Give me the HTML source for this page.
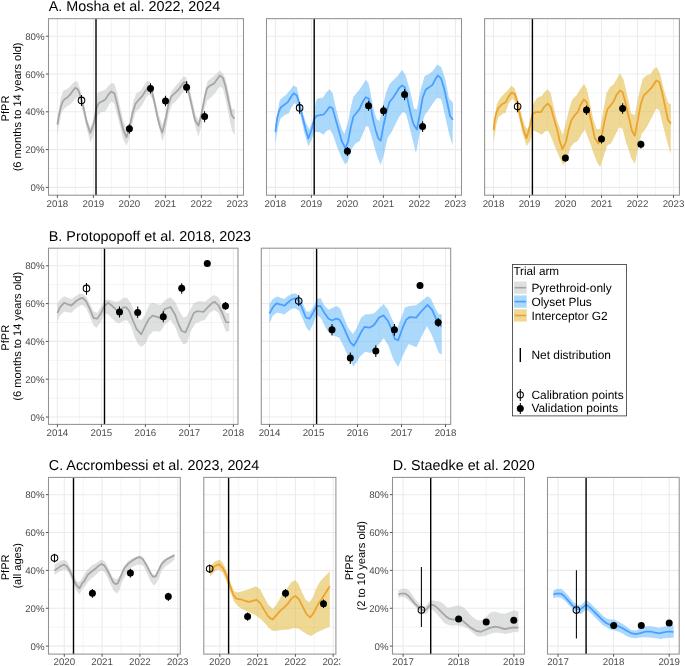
<!DOCTYPE html>
<html><head><meta charset="utf-8"><style>
html,body{margin:0;padding:0;background:#fff;}
svg{display:block;will-change:transform;}
text{font-family:"Liberation Sans", sans-serif;text-rendering:geometricPrecision;}
.ax{font-size:9.7px;fill:#4d4d4d;}
.ti{font-size:14.35px;fill:#000;}
.at{font-size:11.1px;fill:#000;}
.lt{font-size:11.7px;fill:#000;}
.lx{font-size:11.95px;fill:#000;}
</style></head><body>
<svg width="685" height="666" viewBox="0 0 685 666">
<rect width="685" height="666" fill="#fff"/>
<rect x="48.5" y="18.65" width="195.00" height="176.55" fill="#fff"/>
<line x1="48.5" x2="243.5" y1="168.50" y2="168.50" stroke="#ebebeb" stroke-width="0.55"/>
<line x1="48.5" x2="243.5" y1="130.70" y2="130.70" stroke="#ebebeb" stroke-width="0.55"/>
<line x1="48.5" x2="243.5" y1="92.90" y2="92.90" stroke="#ebebeb" stroke-width="0.55"/>
<line x1="48.5" x2="243.5" y1="55.10" y2="55.10" stroke="#ebebeb" stroke-width="0.55"/>
<line x1="75.40" x2="75.40" y1="18.65" y2="195.2" stroke="#ebebeb" stroke-width="0.55"/>
<line x1="111.40" x2="111.40" y1="18.65" y2="195.2" stroke="#ebebeb" stroke-width="0.55"/>
<line x1="147.40" x2="147.40" y1="18.65" y2="195.2" stroke="#ebebeb" stroke-width="0.55"/>
<line x1="183.40" x2="183.40" y1="18.65" y2="195.2" stroke="#ebebeb" stroke-width="0.55"/>
<line x1="219.40" x2="219.40" y1="18.65" y2="195.2" stroke="#ebebeb" stroke-width="0.55"/>
<line x1="48.5" x2="243.5" y1="187.40" y2="187.40" stroke="#ebebeb" stroke-width="1.07"/>
<line x1="48.5" x2="243.5" y1="149.60" y2="149.60" stroke="#ebebeb" stroke-width="1.07"/>
<line x1="48.5" x2="243.5" y1="111.80" y2="111.80" stroke="#ebebeb" stroke-width="1.07"/>
<line x1="48.5" x2="243.5" y1="74.00" y2="74.00" stroke="#ebebeb" stroke-width="1.07"/>
<line x1="48.5" x2="243.5" y1="36.20" y2="36.20" stroke="#ebebeb" stroke-width="1.07"/>
<line x1="57.40" x2="57.40" y1="18.65" y2="195.2" stroke="#ebebeb" stroke-width="1.07"/>
<line x1="93.40" x2="93.40" y1="18.65" y2="195.2" stroke="#ebebeb" stroke-width="1.07"/>
<line x1="129.40" x2="129.40" y1="18.65" y2="195.2" stroke="#ebebeb" stroke-width="1.07"/>
<line x1="165.40" x2="165.40" y1="18.65" y2="195.2" stroke="#ebebeb" stroke-width="1.07"/>
<line x1="201.40" x2="201.40" y1="18.65" y2="195.2" stroke="#ebebeb" stroke-width="1.07"/>
<line x1="237.40" x2="237.40" y1="18.65" y2="195.2" stroke="#ebebeb" stroke-width="1.07"/>
<clipPath id="cpA1"><rect x="48.5" y="18.65" width="195.00" height="176.55"/></clipPath>
<g clip-path="url(#cpA1)">
<path d="M57.4,120.0 L60.8,97.5 L63.6,90.2 L66.4,89.6 L69.8,86.8 L72.6,83.4 L75.4,81.2 L77.6,81.8 L79.9,88.5 L83.3,103.2 L86.7,117.8 L90.3,128.0 L93.4,120.0 L97.6,92.8 L100.0,91.6 L105.4,89.8 L109.0,85.0 L112.0,83.0 L114.4,83.8 L117.4,94.0 L120.4,108.5 L123.4,120.5 L126.5,128.9 L130.1,120.5 L133.0,102.5 L136.1,93.4 L140.9,90.4 L143.8,86.0 L147.0,81.0 L149.6,81.6 L152.8,89.2 L155.9,103.3 L159.1,116.0 L162.3,125.0 L165.5,114.7 L168.7,99.4 L171.9,90.5 L175.7,86.0 L179.5,81.6 L183.4,76.5 L185.9,77.1 L189.8,89.4 L192.4,100.8 L195.6,114.9 L198.8,120.0 L202.0,107.2 L205.1,90.6 L207.7,81.1 L211.5,77.9 L215.4,74.7 L219.8,70.5 L223.0,73.4 L225.6,79.1 L228.8,93.2 L231.9,109.1 L234.7,109.1 L234.7,135.3 L231.9,130.2 L229.4,118.7 L226.2,102.1 L223.0,88.7 L219.8,86.2 L216.0,91.9 L211.5,97.0 L207.1,100.8 L204.5,108.5 L201.3,126.4 L198.5,136.6 L195.6,127.6 L192.4,113.6 L189.2,99.6 L187.2,91.8 L184.0,90.5 L179.5,96.9 L175.7,101.4 L171.9,104.5 L168.7,113.5 L165.5,131.3 L162.3,141.5 L158.5,125.0 L155.3,110.9 L152.1,98.2 L148.9,94.3 L146.4,96.9 L143.2,103.3 L139.7,108.5 L135.5,112.1 L132.5,122.9 L129.5,137.3 L126.5,145.7 L123.4,139.7 L120.4,127.7 L117.4,115.7 L114.4,104.3 L111.4,101.3 L108.4,106.0 L105.4,111.5 L101.2,112.1 L97.6,115.7 L93.4,135.8 L90.3,142.6 L87.2,130.2 L83.8,115.5 L81.0,104.8 L79.3,98.5 L77.5,97.6 L75.3,98.5 L73.0,101.7 L69.9,104.8 L66.7,106.6 L64.0,108.9 L61.8,112.0 L59.9,121.0 L57.4,133.7 Z" fill="#bdbfbf" fill-opacity="0.5" stroke="none"/>
<path d="M57.4,124.5 L59.1,114.7 L60.9,106.6 L62.9,101.2 L64.9,99.0 L67.6,97.2 L69.9,94.9 L72.1,91.8 L75.3,87.7 L78.0,89.5 L79.5,93.1 L83.3,106.5 L86.7,122.3 L90.3,133.0 L93.4,124.5 L95.1,117.8 L96.4,108.5 L98.8,103.0 L102.4,101.3 L105.4,99.4 L108.4,94.6 L111.4,91.4 L114.4,93.4 L117.4,104.9 L120.4,118.1 L123.4,130.1 L126.5,137.3 L129.5,127.7 L132.5,113.3 L135.5,103.7 L139.7,98.8 L142.6,95.6 L145.7,90.5 L148.3,87.3 L152.1,92.4 L154.7,103.3 L157.2,116.0 L159.8,126.2 L162.3,132.6 L165.5,119.8 L168.1,105.8 L171.3,96.3 L174.4,93.7 L178.3,89.9 L182.1,84.8 L184.0,82.2 L186.6,82.9 L189.8,97.0 L192.4,108.5 L194.9,120.0 L198.5,125.7 L201.3,114.9 L204.5,98.3 L207.1,88.1 L210.2,85.5 L214.1,83.6 L217.3,79.1 L219.8,75.6 L223.0,77.9 L225.6,86.8 L228.8,102.1 L231.9,115.5 L234.5,118.7" fill="none" stroke="#a5a5a5" stroke-width="1.75" stroke-linejoin="round" stroke-linecap="butt"/>
<line x1="96.0" x2="96.0" y1="18.65" y2="195.2" stroke="#000" stroke-width="1.4"/>
<line x1="81.5" x2="81.5" y1="95.1" y2="105.9" stroke="#000" stroke-width="1.05"/>
<circle cx="81.5" cy="100.4" r="3.3" fill="none" stroke="#000" stroke-width="1.05"/>
<line x1="129.4" x2="129.4" y1="124.2" y2="133.5" stroke="#000" stroke-width="1.05"/>
<circle cx="129.4" cy="128.7" r="3.5" fill="#000"/>
<line x1="150.5" x2="150.5" y1="83.3" y2="93.4" stroke="#000" stroke-width="1.05"/>
<circle cx="150.5" cy="88.5" r="3.5" fill="#000"/>
<line x1="165.5" x2="165.5" y1="95.8" y2="106.2" stroke="#000" stroke-width="1.05"/>
<circle cx="165.5" cy="100.9" r="3.5" fill="#000"/>
<line x1="186.6" x2="186.6" y1="81.2" y2="93" stroke="#000" stroke-width="1.05"/>
<circle cx="186.6" cy="87.2" r="3.5" fill="#000"/>
<line x1="204.6" x2="204.6" y1="111.3" y2="122.2" stroke="#000" stroke-width="1.05"/>
<circle cx="204.6" cy="116.6" r="3.5" fill="#000"/>
</g>
<rect x="48.5" y="18.65" width="195.00" height="176.55" fill="none" stroke="#939393" stroke-width="1.07"/>
<line x1="57.40" x2="57.40" y1="195.2" y2="197.90" stroke="#555" stroke-width="1.0"/>
<text x="57.40" y="206.60" text-anchor="middle" class="ax">2018</text>
<line x1="93.40" x2="93.40" y1="195.2" y2="197.90" stroke="#555" stroke-width="1.0"/>
<text x="93.40" y="206.60" text-anchor="middle" class="ax">2019</text>
<line x1="129.40" x2="129.40" y1="195.2" y2="197.90" stroke="#555" stroke-width="1.0"/>
<text x="129.40" y="206.60" text-anchor="middle" class="ax">2020</text>
<line x1="165.40" x2="165.40" y1="195.2" y2="197.90" stroke="#555" stroke-width="1.0"/>
<text x="165.40" y="206.60" text-anchor="middle" class="ax">2021</text>
<line x1="201.40" x2="201.40" y1="195.2" y2="197.90" stroke="#555" stroke-width="1.0"/>
<text x="201.40" y="206.60" text-anchor="middle" class="ax">2022</text>
<line x1="237.40" x2="237.40" y1="195.2" y2="197.90" stroke="#555" stroke-width="1.0"/>
<text x="237.40" y="206.60" text-anchor="middle" class="ax">2023</text>
<line x1="45.80" x2="48.5" y1="187.40" y2="187.40" stroke="#555" stroke-width="1.0"/>
<text x="44.60" y="190.90" text-anchor="end" class="ax">0%</text>
<line x1="45.80" x2="48.5" y1="149.60" y2="149.60" stroke="#555" stroke-width="1.0"/>
<text x="44.60" y="153.10" text-anchor="end" class="ax">20%</text>
<line x1="45.80" x2="48.5" y1="111.80" y2="111.80" stroke="#555" stroke-width="1.0"/>
<text x="44.60" y="115.30" text-anchor="end" class="ax">40%</text>
<line x1="45.80" x2="48.5" y1="74.00" y2="74.00" stroke="#555" stroke-width="1.0"/>
<text x="44.60" y="77.50" text-anchor="end" class="ax">60%</text>
<line x1="45.80" x2="48.5" y1="36.20" y2="36.20" stroke="#555" stroke-width="1.0"/>
<text x="44.60" y="39.70" text-anchor="end" class="ax">80%</text>
<rect x="266.5" y="18.65" width="195.00" height="176.55" fill="#fff"/>
<line x1="266.5" x2="461.5" y1="168.50" y2="168.50" stroke="#ebebeb" stroke-width="0.55"/>
<line x1="266.5" x2="461.5" y1="130.70" y2="130.70" stroke="#ebebeb" stroke-width="0.55"/>
<line x1="266.5" x2="461.5" y1="92.90" y2="92.90" stroke="#ebebeb" stroke-width="0.55"/>
<line x1="266.5" x2="461.5" y1="55.10" y2="55.10" stroke="#ebebeb" stroke-width="0.55"/>
<line x1="293.40" x2="293.40" y1="18.65" y2="195.2" stroke="#ebebeb" stroke-width="0.55"/>
<line x1="329.40" x2="329.40" y1="18.65" y2="195.2" stroke="#ebebeb" stroke-width="0.55"/>
<line x1="365.40" x2="365.40" y1="18.65" y2="195.2" stroke="#ebebeb" stroke-width="0.55"/>
<line x1="401.40" x2="401.40" y1="18.65" y2="195.2" stroke="#ebebeb" stroke-width="0.55"/>
<line x1="437.40" x2="437.40" y1="18.65" y2="195.2" stroke="#ebebeb" stroke-width="0.55"/>
<line x1="266.5" x2="461.5" y1="187.40" y2="187.40" stroke="#ebebeb" stroke-width="1.07"/>
<line x1="266.5" x2="461.5" y1="149.60" y2="149.60" stroke="#ebebeb" stroke-width="1.07"/>
<line x1="266.5" x2="461.5" y1="111.80" y2="111.80" stroke="#ebebeb" stroke-width="1.07"/>
<line x1="266.5" x2="461.5" y1="74.00" y2="74.00" stroke="#ebebeb" stroke-width="1.07"/>
<line x1="266.5" x2="461.5" y1="36.20" y2="36.20" stroke="#ebebeb" stroke-width="1.07"/>
<line x1="275.40" x2="275.40" y1="18.65" y2="195.2" stroke="#ebebeb" stroke-width="1.07"/>
<line x1="311.40" x2="311.40" y1="18.65" y2="195.2" stroke="#ebebeb" stroke-width="1.07"/>
<line x1="347.40" x2="347.40" y1="18.65" y2="195.2" stroke="#ebebeb" stroke-width="1.07"/>
<line x1="383.40" x2="383.40" y1="18.65" y2="195.2" stroke="#ebebeb" stroke-width="1.07"/>
<line x1="419.40" x2="419.40" y1="18.65" y2="195.2" stroke="#ebebeb" stroke-width="1.07"/>
<line x1="455.40" x2="455.40" y1="18.65" y2="195.2" stroke="#ebebeb" stroke-width="1.07"/>
<clipPath id="cpA2"><rect x="266.5" y="18.65" width="195.00" height="176.55"/></clipPath>
<g clip-path="url(#cpA2)">
<path d="M275.4,126.0 L279.6,100.4 L282.0,98.0 L286.2,94.7 L290.3,89.7 L293.6,85.6 L296.9,87.2 L299.4,99.6 L302.7,112.8 L306.0,122.7 L309.3,129.3 L312.6,121.0 L315.9,101.3 L317.4,98.6 L322.8,97.7 L326.4,92.3 L329.7,89.3 L332.7,93.2 L335.4,105.9 L339.0,120.3 L342.3,130.2 L344.4,133.8 L348.0,122.1 L350.7,107.7 L353.4,96.8 L358.8,90.5 L362.5,85.1 L366.0,79.7 L368.7,84.0 L371.4,97.7 L374.1,111.2 L376.8,119.2 L379.5,121.0 L382.2,109.4 L385.8,93.2 L389.4,84.2 L393.0,80.6 L397.5,76.1 L402.0,70.1 L405.6,75.2 L409.2,87.8 L412.4,100.5 L414.0,108.4 L416.9,109.3 L420.8,88.8 L424.7,76.1 L428.6,74.2 L432.5,71.3 L437.4,64.4 L441.3,67.3 L445.2,79.1 L449.1,98.6 L453.0,102.5 L452.6,145.5 L449.1,133.8 L445.2,116.2 L441.3,99.6 L437.4,97.6 L433.5,102.5 L429.6,108.4 L424.7,115.2 L420.8,127.9 L415.9,153.3 L414.4,146.7 L411.4,135.0 L408.5,123.3 L406.1,114.5 L404.1,112.1 L401.7,113.0 L398.8,117.4 L394.8,125.5 L391.2,132.7 L387.6,138.1 L384.0,154.3 L380.7,165.1 L377.7,157.9 L375.0,148.9 L371.4,136.3 L368.7,127.3 L366.0,125.7 L362.5,134.7 L359.7,141.0 L355.2,143.7 L351.6,149.1 L348.0,160.8 L345.3,164.4 L341.7,158.1 L337.2,147.3 L333.6,136.5 L330.0,129.3 L326.4,131.1 L323.7,134.7 L319.2,132.0 L314.7,132.0 L311.7,139.2 L308.4,146.6 L304.3,132.6 L301.0,117.8 L297.7,106.2 L294.4,102.9 L291.1,107.9 L288.6,113.6 L286.2,114.2 L283.5,116.0 L280.5,118.5 L277.9,128.0 L275.4,143.5 Z" fill="#55b3f9" fill-opacity="0.5" stroke="none"/>
<path d="M275.4,131.8 L276.4,124.0 L277.4,117.2 L278.9,111.5 L281.0,107.2 L284.5,104.6 L287.8,102.1 L290.3,98.0 L293.6,93.3 L296.9,95.5 L299.4,104.6 L302.7,117.8 L305.6,129.3 L308.4,138.4 L311.7,129.3 L314.2,119.4 L316.5,115.8 L320.1,115.2 L323.7,114.5 L326.4,111.3 L329.7,106.8 L332.7,108.6 L335.4,118.5 L339.0,131.1 L341.7,141.0 L345.3,148.2 L348.0,141.9 L350.7,127.5 L353.4,116.7 L357.0,112.2 L359.7,108.6 L362.5,102.3 L365.7,97.2 L368.7,98.6 L370.5,105.8 L373.2,120.1 L375.9,130.9 L378.2,138.1 L380.7,140.8 L383.1,127.3 L386.7,111.2 L389.4,102.2 L393.0,97.7 L396.6,92.3 L399.3,87.8 L402.0,85.4 L404.7,86.9 L407.4,98.6 L410.1,111.2 L412.8,121.9 L414.0,125.0 L416.9,129.5 L419.8,114.2 L422.7,97.6 L425.7,89.8 L429.6,86.9 L432.5,84.9 L435.4,79.1 L437.8,75.5 L440.9,78.1 L444.2,88.8 L447.2,102.5 L450.1,116.2 L453.0,119.7" fill="none" stroke="#4a9eff" stroke-width="1.75" stroke-linejoin="round" stroke-linecap="butt"/>
<line x1="314.2" x2="314.2" y1="18.65" y2="195.2" stroke="#000" stroke-width="1.4"/>
<line x1="299.6" x2="299.6" y1="102.1" y2="113.8" stroke="#000" stroke-width="1.05"/>
<circle cx="299.6" cy="107.9" r="3.3" fill="none" stroke="#000" stroke-width="1.05"/>
<line x1="347.4" x2="347.4" y1="147" y2="156" stroke="#000" stroke-width="1.05"/>
<circle cx="347.4" cy="151.3" r="3.5" fill="#000"/>
<line x1="368.5" x2="368.5" y1="101" y2="110.7" stroke="#000" stroke-width="1.05"/>
<circle cx="368.5" cy="105.8" r="3.5" fill="#000"/>
<line x1="383.5" x2="383.5" y1="105.5" y2="115.8" stroke="#000" stroke-width="1.05"/>
<circle cx="383.5" cy="110.7" r="3.5" fill="#000"/>
<line x1="404.6" x2="404.6" y1="89" y2="100.3" stroke="#000" stroke-width="1.05"/>
<circle cx="404.6" cy="94.4" r="3.5" fill="#000"/>
<line x1="422.6" x2="422.6" y1="121.3" y2="131.9" stroke="#000" stroke-width="1.05"/>
<circle cx="422.6" cy="126.6" r="3.5" fill="#000"/>
</g>
<rect x="266.5" y="18.65" width="195.00" height="176.55" fill="none" stroke="#939393" stroke-width="1.07"/>
<line x1="275.40" x2="275.40" y1="195.2" y2="197.90" stroke="#555" stroke-width="1.0"/>
<text x="275.40" y="206.60" text-anchor="middle" class="ax">2018</text>
<line x1="311.40" x2="311.40" y1="195.2" y2="197.90" stroke="#555" stroke-width="1.0"/>
<text x="311.40" y="206.60" text-anchor="middle" class="ax">2019</text>
<line x1="347.40" x2="347.40" y1="195.2" y2="197.90" stroke="#555" stroke-width="1.0"/>
<text x="347.40" y="206.60" text-anchor="middle" class="ax">2020</text>
<line x1="383.40" x2="383.40" y1="195.2" y2="197.90" stroke="#555" stroke-width="1.0"/>
<text x="383.40" y="206.60" text-anchor="middle" class="ax">2021</text>
<line x1="419.40" x2="419.40" y1="195.2" y2="197.90" stroke="#555" stroke-width="1.0"/>
<text x="419.40" y="206.60" text-anchor="middle" class="ax">2022</text>
<line x1="455.40" x2="455.40" y1="195.2" y2="197.90" stroke="#555" stroke-width="1.0"/>
<text x="455.40" y="206.60" text-anchor="middle" class="ax">2023</text>
<rect x="484.6" y="18.65" width="194.80" height="176.55" fill="#fff"/>
<line x1="484.6" x2="679.4" y1="168.50" y2="168.50" stroke="#ebebeb" stroke-width="0.55"/>
<line x1="484.6" x2="679.4" y1="130.70" y2="130.70" stroke="#ebebeb" stroke-width="0.55"/>
<line x1="484.6" x2="679.4" y1="92.90" y2="92.90" stroke="#ebebeb" stroke-width="0.55"/>
<line x1="484.6" x2="679.4" y1="55.10" y2="55.10" stroke="#ebebeb" stroke-width="0.55"/>
<line x1="511.50" x2="511.50" y1="18.65" y2="195.2" stroke="#ebebeb" stroke-width="0.55"/>
<line x1="547.50" x2="547.50" y1="18.65" y2="195.2" stroke="#ebebeb" stroke-width="0.55"/>
<line x1="583.50" x2="583.50" y1="18.65" y2="195.2" stroke="#ebebeb" stroke-width="0.55"/>
<line x1="619.50" x2="619.50" y1="18.65" y2="195.2" stroke="#ebebeb" stroke-width="0.55"/>
<line x1="655.50" x2="655.50" y1="18.65" y2="195.2" stroke="#ebebeb" stroke-width="0.55"/>
<line x1="484.6" x2="679.4" y1="187.40" y2="187.40" stroke="#ebebeb" stroke-width="1.07"/>
<line x1="484.6" x2="679.4" y1="149.60" y2="149.60" stroke="#ebebeb" stroke-width="1.07"/>
<line x1="484.6" x2="679.4" y1="111.80" y2="111.80" stroke="#ebebeb" stroke-width="1.07"/>
<line x1="484.6" x2="679.4" y1="74.00" y2="74.00" stroke="#ebebeb" stroke-width="1.07"/>
<line x1="484.6" x2="679.4" y1="36.20" y2="36.20" stroke="#ebebeb" stroke-width="1.07"/>
<line x1="493.50" x2="493.50" y1="18.65" y2="195.2" stroke="#ebebeb" stroke-width="1.07"/>
<line x1="529.50" x2="529.50" y1="18.65" y2="195.2" stroke="#ebebeb" stroke-width="1.07"/>
<line x1="565.50" x2="565.50" y1="18.65" y2="195.2" stroke="#ebebeb" stroke-width="1.07"/>
<line x1="601.50" x2="601.50" y1="18.65" y2="195.2" stroke="#ebebeb" stroke-width="1.07"/>
<line x1="637.50" x2="637.50" y1="18.65" y2="195.2" stroke="#ebebeb" stroke-width="1.07"/>
<line x1="673.50" x2="673.50" y1="18.65" y2="195.2" stroke="#ebebeb" stroke-width="1.07"/>
<clipPath id="cpA3"><rect x="484.6" y="18.65" width="194.80" height="176.55"/></clipPath>
<g clip-path="url(#cpA3)">
<path d="M493.6,123.7 L496.8,104.0 L500.4,97.7 L504.0,94.1 L507.6,90.5 L511.5,85.6 L514.8,88.7 L517.5,97.7 L521.1,113.0 L524.7,125.5 L527.4,129.1 L530.1,123.7 L533.1,104.0 L537.2,97.7 L541.7,95.9 L544.4,92.3 L547.7,89.3 L550.7,93.2 L553.4,105.9 L557.0,120.3 L560.3,129.3 L562.8,134.7 L566.0,122.1 L569.6,107.7 L572.3,99.5 L576.8,95.0 L580.5,88.7 L584.0,83.9 L586.7,88.7 L589.4,100.4 L593.0,118.3 L596.6,129.1 L600.2,129.1 L602.9,113.0 L606.5,93.2 L610.1,86.9 L613.7,84.2 L617.3,77.9 L620.0,73.4 L623.6,79.7 L627.2,95.0 L629.5,105.0 L630.9,113.2 L634.8,115.2 L638.7,94.7 L642.6,79.1 L646.6,75.2 L650.5,74.2 L653.4,69.3 L656.9,67.0 L660.2,74.2 L664.1,90.8 L668.0,102.5 L671.0,104.5 L670.6,154.3 L667.1,141.6 L663.2,125.9 L659.3,110.3 L656.3,108.4 L653.4,114.2 L649.5,122.0 L645.6,128.9 L641.7,133.8 L637.8,149.4 L634.8,164.0 L630.9,157.2 L628.0,147.4 L626.3,143.5 L622.7,129.1 L619.1,127.3 L614.6,136.3 L611.0,143.5 L607.4,145.3 L603.8,156.1 L600.2,166.9 L597.5,163.3 L593.9,154.3 L590.3,143.5 L586.7,134.5 L585.0,129.3 L581.4,134.7 L577.7,141.0 L574.1,142.8 L570.5,147.3 L566.9,159.9 L563.3,165.3 L559.7,158.1 L555.2,147.3 L551.6,138.3 L548.0,130.2 L544.4,132.0 L541.7,134.7 L537.2,132.0 L533.1,130.2 L530.1,140.8 L526.5,146.2 L522.0,130.9 L518.4,114.7 L515.1,102.2 L512.1,98.6 L508.5,104.0 L505.4,113.0 L502.2,113.8 L501.7,114.7 L498.5,116.8 L496.4,124.2 L493.6,142.0 Z" fill="#ddb129" fill-opacity="0.5" stroke="none"/>
<path d="M493.6,130.2 L494.8,119.2 L496.4,112.6 L498.5,107.9 L502.2,104.0 L505.8,102.2 L508.5,96.8 L511.5,92.6 L514.8,94.1 L517.5,102.2 L520.2,116.5 L523.8,130.9 L526.5,138.1 L529.2,129.1 L531.9,116.5 L532.7,114.0 L535.4,112.2 L540.8,112.2 L544.4,106.8 L547.7,103.5 L550.7,106.8 L553.4,116.7 L557.0,129.3 L559.7,141.0 L562.4,149.1 L566.0,141.9 L568.7,129.3 L571.4,120.3 L575.0,114.9 L577.7,112.2 L580.5,105.0 L583.7,99.5 L586.7,102.2 L589.4,113.0 L592.1,125.5 L594.8,138.1 L598.4,143.5 L602.0,134.5 L604.7,120.1 L607.4,109.4 L611.0,104.9 L613.7,101.3 L616.4,95.0 L620.0,90.5 L622.7,92.3 L625.4,102.2 L628.1,114.7 L630.0,122.0 L631.9,130.8 L634.8,135.7 L637.8,120.1 L640.7,104.5 L643.6,95.7 L647.5,91.8 L651.4,87.9 L656.3,80.4 L659.3,82.0 L662.2,92.7 L665.1,106.4 L668.0,120.1 L671.0,123.6" fill="none" stroke="#eea22b" stroke-width="1.75" stroke-linejoin="round" stroke-linecap="butt"/>
<line x1="532.4" x2="532.4" y1="18.65" y2="195.2" stroke="#000" stroke-width="1.4"/>
<line x1="517.6" x2="517.6" y1="101.2" y2="112.2" stroke="#000" stroke-width="1.05"/>
<circle cx="517.6" cy="106.6" r="3.3" fill="none" stroke="#000" stroke-width="1.05"/>
<line x1="565.4" x2="565.4" y1="155" y2="161.8" stroke="#000" stroke-width="1.05"/>
<circle cx="565.4" cy="158.1" r="3.5" fill="#000"/>
<line x1="586.5" x2="586.5" y1="105.4" y2="115.1" stroke="#000" stroke-width="1.05"/>
<circle cx="586.5" cy="110" r="3.5" fill="#000"/>
<line x1="601.5" x2="601.5" y1="135.2" y2="143.5" stroke="#000" stroke-width="1.05"/>
<circle cx="601.5" cy="139.1" r="3.5" fill="#000"/>
<line x1="622.6" x2="622.6" y1="103.3" y2="113.7" stroke="#000" stroke-width="1.05"/>
<circle cx="622.6" cy="108.5" r="3.5" fill="#000"/>
<line x1="640.9" x2="640.9" y1="140.8" y2="148.4" stroke="#000" stroke-width="1.05"/>
<circle cx="640.9" cy="144.2" r="3.5" fill="#000"/>
</g>
<rect x="484.6" y="18.65" width="194.80" height="176.55" fill="none" stroke="#939393" stroke-width="1.07"/>
<line x1="493.50" x2="493.50" y1="195.2" y2="197.90" stroke="#555" stroke-width="1.0"/>
<text x="493.50" y="206.60" text-anchor="middle" class="ax">2018</text>
<line x1="529.50" x2="529.50" y1="195.2" y2="197.90" stroke="#555" stroke-width="1.0"/>
<text x="529.50" y="206.60" text-anchor="middle" class="ax">2019</text>
<line x1="565.50" x2="565.50" y1="195.2" y2="197.90" stroke="#555" stroke-width="1.0"/>
<text x="565.50" y="206.60" text-anchor="middle" class="ax">2020</text>
<line x1="601.50" x2="601.50" y1="195.2" y2="197.90" stroke="#555" stroke-width="1.0"/>
<text x="601.50" y="206.60" text-anchor="middle" class="ax">2021</text>
<line x1="637.50" x2="637.50" y1="195.2" y2="197.90" stroke="#555" stroke-width="1.0"/>
<text x="637.50" y="206.60" text-anchor="middle" class="ax">2022</text>
<line x1="673.50" x2="673.50" y1="195.2" y2="197.90" stroke="#555" stroke-width="1.0"/>
<text x="673.50" y="206.60" text-anchor="middle" class="ax">2023</text>
<rect x="48.5" y="248.2" width="189.50" height="176.20" fill="#fff"/>
<line x1="48.5" x2="238.0" y1="398.10" y2="398.10" stroke="#ebebeb" stroke-width="0.55"/>
<line x1="48.5" x2="238.0" y1="360.30" y2="360.30" stroke="#ebebeb" stroke-width="0.55"/>
<line x1="48.5" x2="238.0" y1="322.50" y2="322.50" stroke="#ebebeb" stroke-width="0.55"/>
<line x1="48.5" x2="238.0" y1="284.70" y2="284.70" stroke="#ebebeb" stroke-width="0.55"/>
<line x1="79.40" x2="79.40" y1="248.2" y2="424.4" stroke="#ebebeb" stroke-width="0.55"/>
<line x1="123.40" x2="123.40" y1="248.2" y2="424.4" stroke="#ebebeb" stroke-width="0.55"/>
<line x1="167.40" x2="167.40" y1="248.2" y2="424.4" stroke="#ebebeb" stroke-width="0.55"/>
<line x1="211.40" x2="211.40" y1="248.2" y2="424.4" stroke="#ebebeb" stroke-width="0.55"/>
<line x1="48.5" x2="238.0" y1="417.00" y2="417.00" stroke="#ebebeb" stroke-width="1.07"/>
<line x1="48.5" x2="238.0" y1="379.20" y2="379.20" stroke="#ebebeb" stroke-width="1.07"/>
<line x1="48.5" x2="238.0" y1="341.40" y2="341.40" stroke="#ebebeb" stroke-width="1.07"/>
<line x1="48.5" x2="238.0" y1="303.60" y2="303.60" stroke="#ebebeb" stroke-width="1.07"/>
<line x1="48.5" x2="238.0" y1="265.80" y2="265.80" stroke="#ebebeb" stroke-width="1.07"/>
<line x1="57.40" x2="57.40" y1="248.2" y2="424.4" stroke="#ebebeb" stroke-width="1.07"/>
<line x1="101.40" x2="101.40" y1="248.2" y2="424.4" stroke="#ebebeb" stroke-width="1.07"/>
<line x1="145.40" x2="145.40" y1="248.2" y2="424.4" stroke="#ebebeb" stroke-width="1.07"/>
<line x1="189.40" x2="189.40" y1="248.2" y2="424.4" stroke="#ebebeb" stroke-width="1.07"/>
<line x1="233.40" x2="233.40" y1="248.2" y2="424.4" stroke="#ebebeb" stroke-width="1.07"/>
<clipPath id="cpB1"><rect x="48.5" y="248.2" width="189.50" height="176.20"/></clipPath>
<g clip-path="url(#cpB1)">
<path d="M57.4,303.7 L60.0,299.5 L64.2,296.2 L67.8,297.7 L71.4,298.9 L75.7,295.9 L79.9,293.4 L82.9,294.0 L86.5,297.1 L90.1,304.3 L93.7,311.5 L97.3,312.7 L100.9,307.3 L104.5,300.1 L108.2,299.5 L112.4,300.7 L116.0,301.9 L119.6,300.7 L123.8,297.7 L126.8,297.7 L130.5,302.5 L134.1,310.9 L137.7,318.1 L141.3,319.9 L145.5,314.5 L148.5,306.1 L152.1,302.5 L156.9,304.3 L160.5,304.9 L166.0,299.5 L170.5,297.3 L175.0,301.8 L179.5,311.5 L183.3,317.5 L186.3,316.8 L190.0,310.0 L193.8,303.3 L199.0,301.0 L205.0,301.8 L209.5,298.0 L214.0,295.0 L218.5,297.3 L222.3,305.5 L226.0,313.0 L229.3,313.0 L229.3,331.0 L226.0,331.8 L222.3,322.0 L218.5,313.0 L214.0,310.0 L209.5,313.0 L205.0,319.8 L200.5,321.3 L195.3,323.5 L190.8,331.0 L187.0,343.0 L183.3,344.6 L178.8,337.0 L175.0,326.5 L170.5,319.8 L164.5,325.0 L160.0,331.8 L158.1,331.3 L153.3,331.3 L149.1,335.5 L145.5,343.3 L141.9,347.0 L138.3,344.5 L134.7,337.3 L131.1,326.5 L127.4,320.5 L123.8,320.5 L119.6,323.5 L116.0,322.3 L112.4,318.7 L108.2,314.5 L104.5,313.3 L100.9,321.7 L96.7,327.7 L93.7,325.9 L90.1,316.9 L86.5,308.5 L82.9,304.9 L79.9,305.5 L75.7,308.5 L71.4,312.8 L67.8,312.2 L64.2,311.5 L60.0,315.5 L57.4,321.5 Z" fill="#bdbfbf" fill-opacity="0.5" stroke="none"/>
<path d="M57.4,313.0 L60.0,307.3 L64.2,302.7 L67.8,304.3 L71.4,305.5 L75.7,301.3 L79.3,298.9 L82.9,297.9 L86.5,301.9 L90.1,309.7 L93.7,318.1 L97.3,318.7 L100.9,313.3 L104.3,306.1 L108.2,302.7 L112.4,306.1 L116.0,309.7 L119.6,311.5 L123.2,307.3 L126.2,307.3 L129.2,310.9 L132.9,320.5 L136.5,328.9 L141.3,334.3 L144.9,326.5 L149.1,318.7 L152.7,315.7 L156.9,316.9 L160.5,318.1 L164.5,309.3 L170.5,307.0 L175.0,314.5 L178.8,325.0 L181.8,331.0 L185.5,332.3 L189.3,323.5 L193.8,313.0 L196.8,311.2 L200.5,311.5 L203.5,311.8 L208.0,307.0 L211.8,303.3 L214.8,301.8 L218.5,305.5 L222.3,313.0 L226.0,322.0 L229.3,322.3" fill="none" stroke="#a5a5a5" stroke-width="1.75" stroke-linejoin="round" stroke-linecap="butt"/>
<line x1="104.5" x2="104.5" y1="248.2" y2="424.4" stroke="#000" stroke-width="1.4"/>
<line x1="86.5" x2="86.5" y1="283.0" y2="294.7" stroke="#000" stroke-width="1.05"/>
<circle cx="86.5" cy="288.4" r="3.3" fill="none" stroke="#000" stroke-width="1.05"/>
<line x1="119.5" x2="119.5" y1="306.5" y2="317.4" stroke="#000" stroke-width="1.05"/>
<circle cx="119.5" cy="311.9" r="3.5" fill="#000"/>
<line x1="137.7" x2="137.7" y1="306.6" y2="318" stroke="#000" stroke-width="1.05"/>
<circle cx="137.7" cy="312.5" r="3.5" fill="#000"/>
<line x1="163.3" x2="163.3" y1="311.2" y2="322.2" stroke="#000" stroke-width="1.05"/>
<circle cx="163.3" cy="316.7" r="3.5" fill="#000"/>
<line x1="181.7" x2="181.7" y1="283.3" y2="293.7" stroke="#000" stroke-width="1.05"/>
<circle cx="181.7" cy="288.2" r="3.5" fill="#000"/>
<circle cx="207.3" cy="263.6" r="3.5" fill="#000"/>
<line x1="225.5" x2="225.5" y1="302.1" y2="309.7" stroke="#000" stroke-width="1.05"/>
<circle cx="225.5" cy="306.1" r="3.5" fill="#000"/>
</g>
<rect x="48.5" y="248.2" width="189.50" height="176.20" fill="none" stroke="#939393" stroke-width="1.07"/>
<line x1="57.40" x2="57.40" y1="424.4" y2="427.10" stroke="#555" stroke-width="1.0"/>
<text x="57.40" y="435.80" text-anchor="middle" class="ax">2014</text>
<line x1="101.40" x2="101.40" y1="424.4" y2="427.10" stroke="#555" stroke-width="1.0"/>
<text x="101.40" y="435.80" text-anchor="middle" class="ax">2015</text>
<line x1="145.40" x2="145.40" y1="424.4" y2="427.10" stroke="#555" stroke-width="1.0"/>
<text x="145.40" y="435.80" text-anchor="middle" class="ax">2016</text>
<line x1="189.40" x2="189.40" y1="424.4" y2="427.10" stroke="#555" stroke-width="1.0"/>
<text x="189.40" y="435.80" text-anchor="middle" class="ax">2017</text>
<line x1="233.40" x2="233.40" y1="424.4" y2="427.10" stroke="#555" stroke-width="1.0"/>
<text x="233.40" y="435.80" text-anchor="middle" class="ax">2018</text>
<line x1="45.80" x2="48.5" y1="417.00" y2="417.00" stroke="#555" stroke-width="1.0"/>
<text x="44.60" y="420.50" text-anchor="end" class="ax">0%</text>
<line x1="45.80" x2="48.5" y1="379.20" y2="379.20" stroke="#555" stroke-width="1.0"/>
<text x="44.60" y="382.70" text-anchor="end" class="ax">20%</text>
<line x1="45.80" x2="48.5" y1="341.40" y2="341.40" stroke="#555" stroke-width="1.0"/>
<text x="44.60" y="344.90" text-anchor="end" class="ax">40%</text>
<line x1="45.80" x2="48.5" y1="303.60" y2="303.60" stroke="#555" stroke-width="1.0"/>
<text x="44.60" y="307.10" text-anchor="end" class="ax">60%</text>
<line x1="45.80" x2="48.5" y1="265.80" y2="265.80" stroke="#555" stroke-width="1.0"/>
<text x="44.60" y="269.30" text-anchor="end" class="ax">80%</text>
<rect x="261.3" y="248.2" width="189.40" height="176.20" fill="#fff"/>
<line x1="261.3" x2="450.7" y1="398.10" y2="398.10" stroke="#ebebeb" stroke-width="0.55"/>
<line x1="261.3" x2="450.7" y1="360.30" y2="360.30" stroke="#ebebeb" stroke-width="0.55"/>
<line x1="261.3" x2="450.7" y1="322.50" y2="322.50" stroke="#ebebeb" stroke-width="0.55"/>
<line x1="261.3" x2="450.7" y1="284.70" y2="284.70" stroke="#ebebeb" stroke-width="0.55"/>
<line x1="291.50" x2="291.50" y1="248.2" y2="424.4" stroke="#ebebeb" stroke-width="0.55"/>
<line x1="335.50" x2="335.50" y1="248.2" y2="424.4" stroke="#ebebeb" stroke-width="0.55"/>
<line x1="379.50" x2="379.50" y1="248.2" y2="424.4" stroke="#ebebeb" stroke-width="0.55"/>
<line x1="423.50" x2="423.50" y1="248.2" y2="424.4" stroke="#ebebeb" stroke-width="0.55"/>
<line x1="261.3" x2="450.7" y1="417.00" y2="417.00" stroke="#ebebeb" stroke-width="1.07"/>
<line x1="261.3" x2="450.7" y1="379.20" y2="379.20" stroke="#ebebeb" stroke-width="1.07"/>
<line x1="261.3" x2="450.7" y1="341.40" y2="341.40" stroke="#ebebeb" stroke-width="1.07"/>
<line x1="261.3" x2="450.7" y1="303.60" y2="303.60" stroke="#ebebeb" stroke-width="1.07"/>
<line x1="261.3" x2="450.7" y1="265.80" y2="265.80" stroke="#ebebeb" stroke-width="1.07"/>
<line x1="269.50" x2="269.50" y1="248.2" y2="424.4" stroke="#ebebeb" stroke-width="1.07"/>
<line x1="313.50" x2="313.50" y1="248.2" y2="424.4" stroke="#ebebeb" stroke-width="1.07"/>
<line x1="357.50" x2="357.50" y1="248.2" y2="424.4" stroke="#ebebeb" stroke-width="1.07"/>
<line x1="401.50" x2="401.50" y1="248.2" y2="424.4" stroke="#ebebeb" stroke-width="1.07"/>
<line x1="445.50" x2="445.50" y1="248.2" y2="424.4" stroke="#ebebeb" stroke-width="1.07"/>
<clipPath id="cpB2"><rect x="261.3" y="248.2" width="189.40" height="176.20"/></clipPath>
<g clip-path="url(#cpB2)">
<path d="M269.5,303.7 L272.8,298.9 L277.0,296.5 L280.6,297.7 L284.2,298.9 L287.9,295.9 L292.1,293.8 L295.7,293.4 L299.3,295.9 L302.9,303.7 L306.5,311.5 L310.1,311.5 L313.7,306.1 L317.3,298.9 L320.5,298.0 L324.1,305.2 L328.6,309.7 L332.2,307.9 L336.7,306.1 L340.3,308.8 L343.9,317.8 L348.4,328.6 L352.9,334.1 L356.5,328.6 L361.0,317.8 L365.5,314.2 L370.1,314.2 L374.5,313.1 L379.0,308.6 L383.5,304.1 L388.0,309.7 L392.5,319.9 L397.0,328.9 L400.4,319.9 L404.9,307.5 L409.4,305.9 L416.2,305.2 L421.8,300.7 L427.5,296.2 L430.8,298.5 L435.4,308.6 L438.7,314.2 L441.7,314.2 L441.7,354.4 L438.8,353.1 L434.9,342.6 L431.0,333.4 L427.0,326.1 L421.8,336.0 L416.5,347.2 L408.6,343.9 L403.4,354.4 L398.1,366.9 L392.9,358.3 L388.3,345.2 L383.7,338.0 L379.1,343.9 L374.5,349.1 L370.5,353.1 L365.3,351.8 L360.0,356.4 L357.4,361.1 L353.5,366.5 L348.4,357.5 L343.9,346.7 L339.4,337.7 L334.9,335.9 L330.4,334.1 L325.9,328.6 L321.4,318.7 L316.7,314.5 L313.1,324.1 L309.5,331.3 L306.5,327.7 L302.9,319.3 L299.3,310.9 L295.7,308.5 L292.1,308.5 L287.9,311.5 L284.2,314.5 L280.6,313.3 L277.0,312.7 L272.8,315.7 L269.5,323.5 Z" fill="#55b3f9" fill-opacity="0.5" stroke="none"/>
<path d="M269.5,313.3 L272.8,307.3 L276.4,303.4 L280.0,304.3 L284.2,305.8 L287.9,302.5 L291.5,299.5 L295.1,298.3 L298.7,300.7 L302.3,308.5 L305.9,317.5 L309.5,318.7 L313.1,312.7 L316.7,306.1 L320.5,306.1 L324.1,312.4 L328.6,318.7 L332.2,320.5 L335.8,318.7 L339.4,319.6 L343.0,325.9 L346.6,334.1 L350.2,342.2 L353.8,345.8 L357.4,339.5 L361.0,332.3 L364.6,326.8 L369.2,327.7 L372.8,325.9 L374.5,324.4 L379.0,317.6 L383.5,315.4 L388.0,321.0 L391.4,328.9 L394.8,339.0 L398.2,340.1 L402.7,327.7 L406.1,319.9 L409.4,317.2 L416.2,317.6 L420.7,312.0 L427.5,304.8 L432.0,309.7 L436.5,319.9 L438.7,324.4 L441.7,326.6" fill="none" stroke="#4a9eff" stroke-width="1.75" stroke-linejoin="round" stroke-linecap="butt"/>
<line x1="316.6" x2="316.6" y1="248.2" y2="424.4" stroke="#000" stroke-width="1.4"/>
<line x1="298.7" x2="298.7" y1="295.2" y2="306.1" stroke="#000" stroke-width="1.05"/>
<circle cx="298.7" cy="301" r="3.3" fill="none" stroke="#000" stroke-width="1.05"/>
<line x1="332" x2="332" y1="323.9" y2="335.6" stroke="#000" stroke-width="1.05"/>
<circle cx="332" cy="329.7" r="3.5" fill="#000"/>
<line x1="350.3" x2="350.3" y1="352.6" y2="364.1" stroke="#000" stroke-width="1.05"/>
<circle cx="350.3" cy="358" r="3.5" fill="#000"/>
<line x1="375.8" x2="375.8" y1="345.3" y2="357.1" stroke="#000" stroke-width="1.05"/>
<circle cx="375.8" cy="351.1" r="3.5" fill="#000"/>
<line x1="394.4" x2="394.4" y1="323.9" y2="335.8" stroke="#000" stroke-width="1.05"/>
<circle cx="394.4" cy="329.7" r="3.5" fill="#000"/>
<circle cx="420" cy="285.6" r="3.5" fill="#000"/>
<line x1="438.2" x2="438.2" y1="317.9" y2="327" stroke="#000" stroke-width="1.05"/>
<circle cx="438.2" cy="322.4" r="3.5" fill="#000"/>
</g>
<rect x="261.3" y="248.2" width="189.40" height="176.20" fill="none" stroke="#939393" stroke-width="1.07"/>
<line x1="269.50" x2="269.50" y1="424.4" y2="427.10" stroke="#555" stroke-width="1.0"/>
<text x="269.50" y="435.80" text-anchor="middle" class="ax">2014</text>
<line x1="313.50" x2="313.50" y1="424.4" y2="427.10" stroke="#555" stroke-width="1.0"/>
<text x="313.50" y="435.80" text-anchor="middle" class="ax">2015</text>
<line x1="357.50" x2="357.50" y1="424.4" y2="427.10" stroke="#555" stroke-width="1.0"/>
<text x="357.50" y="435.80" text-anchor="middle" class="ax">2016</text>
<line x1="401.50" x2="401.50" y1="424.4" y2="427.10" stroke="#555" stroke-width="1.0"/>
<text x="401.50" y="435.80" text-anchor="middle" class="ax">2017</text>
<line x1="445.50" x2="445.50" y1="424.4" y2="427.10" stroke="#555" stroke-width="1.0"/>
<text x="445.50" y="435.80" text-anchor="middle" class="ax">2018</text>
<rect x="48.5" y="477.4" width="131.80" height="176.70" fill="#fff"/>
<line x1="48.5" x2="180.3" y1="627.17" y2="627.17" stroke="#ebebeb" stroke-width="0.55"/>
<line x1="48.5" x2="180.3" y1="589.31" y2="589.31" stroke="#ebebeb" stroke-width="0.55"/>
<line x1="48.5" x2="180.3" y1="551.45" y2="551.45" stroke="#ebebeb" stroke-width="0.55"/>
<line x1="48.5" x2="180.3" y1="513.59" y2="513.59" stroke="#ebebeb" stroke-width="0.55"/>
<line x1="83.20" x2="83.20" y1="477.4" y2="654.1" stroke="#ebebeb" stroke-width="0.55"/>
<line x1="121.00" x2="121.00" y1="477.4" y2="654.1" stroke="#ebebeb" stroke-width="0.55"/>
<line x1="158.80" x2="158.80" y1="477.4" y2="654.1" stroke="#ebebeb" stroke-width="0.55"/>
<line x1="48.5" x2="180.3" y1="646.10" y2="646.10" stroke="#ebebeb" stroke-width="1.07"/>
<line x1="48.5" x2="180.3" y1="608.24" y2="608.24" stroke="#ebebeb" stroke-width="1.07"/>
<line x1="48.5" x2="180.3" y1="570.38" y2="570.38" stroke="#ebebeb" stroke-width="1.07"/>
<line x1="48.5" x2="180.3" y1="532.52" y2="532.52" stroke="#ebebeb" stroke-width="1.07"/>
<line x1="48.5" x2="180.3" y1="494.66" y2="494.66" stroke="#ebebeb" stroke-width="1.07"/>
<line x1="64.30" x2="64.30" y1="477.4" y2="654.1" stroke="#ebebeb" stroke-width="1.07"/>
<line x1="102.10" x2="102.10" y1="477.4" y2="654.1" stroke="#ebebeb" stroke-width="1.07"/>
<line x1="139.90" x2="139.90" y1="477.4" y2="654.1" stroke="#ebebeb" stroke-width="1.07"/>
<line x1="177.70" x2="177.70" y1="477.4" y2="654.1" stroke="#ebebeb" stroke-width="1.07"/>
<clipPath id="cpC1"><rect x="48.5" y="477.4" width="131.80" height="176.70"/></clipPath>
<g clip-path="url(#cpC1)">
<path d="M54.5,564.6 L58.0,562.3 L61.1,560.6 L63.8,559.9 L66.4,560.8 L69.0,565.2 L71.6,570.0 L74.3,576.3 L76.9,581.5 L79.5,582.0 L82.2,578.4 L85.3,572.6 L88.5,568.4 L92.1,565.2 L95.8,563.6 L99.0,561.0 L101.6,559.4 L104.8,561.5 L107.4,565.8 L110.0,571.5 L112.6,577.0 L115.0,579.0 L118.0,578.6 L121.0,573.2 L124.0,566.1 L128.5,560.7 L133.0,558.0 L139.3,555.3 L142.9,557.1 L146.5,562.5 L150.1,569.7 L152.8,574.7 L155.5,574.7 L158.2,568.8 L161.8,561.2 L166.3,558.0 L170.8,555.8 L174.5,553.5 L174.5,558.9 L172.6,561.6 L169.0,563.9 L165.4,566.6 L161.8,570.6 L159.1,577.8 L156.4,583.2 L153.7,585.5 L150.1,580.5 L146.5,572.4 L143.4,566.1 L140.2,564.3 L137.5,564.8 L133.0,566.6 L128.5,569.7 L124.0,578.5 L121.5,583.0 L119.3,590.5 L117.0,593.5 L114.0,591.3 L111.0,585.3 L108.0,578.5 L105.0,572.5 L102.0,570.3 L99.0,571.8 L95.3,575.5 L91.5,578.5 L87.8,582.3 L84.0,587.5 L82.2,588.9 L79.5,594.5 L76.9,591.0 L74.3,586.2 L71.6,579.4 L69.0,573.6 L66.4,570.0 L63.8,569.4 L61.1,570.5 L58.0,572.6 L54.5,574.7 Z" fill="#bdbfbf" fill-opacity="0.5" stroke="none"/>
<path d="M54.5,570.5 L57.5,568.4 L60.6,566.1 L63.8,564.7 L66.4,565.8 L69.0,569.4 L71.6,574.7 L74.3,581.5 L76.9,585.7 L79.5,588.4 L82.2,583.1 L84.0,581.5 L87.8,574.8 L91.5,571.8 L95.3,568.8 L99.0,565.4 L101.6,563.9 L104.3,565.4 L107.3,570.3 L110.3,576.3 L113.3,582.3 L115.5,584.1 L117.8,583.4 L120.8,576.3 L124.0,568.8 L128.5,563.4 L133.0,560.3 L136.6,558.0 L139.8,557.1 L142.9,559.4 L146.5,565.2 L150.1,572.4 L152.8,576.5 L155.5,576.5 L158.2,571.1 L161.8,563.9 L165.4,560.3 L169.9,557.6 L174.5,555.3" fill="none" stroke="#a5a5a5" stroke-width="1.75" stroke-linejoin="round" stroke-linecap="butt"/>
<line x1="73.5" x2="73.5" y1="477.4" y2="654.1" stroke="#000" stroke-width="1.4"/>
<line x1="54.5" x2="54.5" y1="553.7" y2="562.6" stroke="#000" stroke-width="1.05"/>
<circle cx="54.5" cy="558.1" r="3.3" fill="none" stroke="#000" stroke-width="1.05"/>
<line x1="92.4" x2="92.4" y1="589.2" y2="597.7" stroke="#000" stroke-width="1.05"/>
<circle cx="92.4" cy="593.3" r="3.5" fill="#000"/>
<line x1="130.4" x2="130.4" y1="568.8" y2="577.5" stroke="#000" stroke-width="1.05"/>
<circle cx="130.4" cy="573.1" r="3.5" fill="#000"/>
<line x1="168.3" x2="168.3" y1="592.8" y2="600.9" stroke="#000" stroke-width="1.05"/>
<circle cx="168.3" cy="596.5" r="3.5" fill="#000"/>
</g>
<rect x="48.5" y="477.4" width="131.80" height="176.70" fill="none" stroke="#939393" stroke-width="1.07"/>
<line x1="64.30" x2="64.30" y1="654.1" y2="656.80" stroke="#555" stroke-width="1.0"/>
<text x="64.30" y="664.90" text-anchor="middle" class="ax">2020</text>
<line x1="102.10" x2="102.10" y1="654.1" y2="656.80" stroke="#555" stroke-width="1.0"/>
<text x="102.10" y="664.90" text-anchor="middle" class="ax">2021</text>
<line x1="139.90" x2="139.90" y1="654.1" y2="656.80" stroke="#555" stroke-width="1.0"/>
<text x="139.90" y="664.90" text-anchor="middle" class="ax">2022</text>
<line x1="177.70" x2="177.70" y1="654.1" y2="656.80" stroke="#555" stroke-width="1.0"/>
<text x="177.70" y="664.90" text-anchor="middle" class="ax">2023</text>
<line x1="45.80" x2="48.5" y1="646.10" y2="646.10" stroke="#555" stroke-width="1.0"/>
<text x="44.60" y="649.60" text-anchor="end" class="ax">0%</text>
<line x1="45.80" x2="48.5" y1="608.24" y2="608.24" stroke="#555" stroke-width="1.0"/>
<text x="44.60" y="611.74" text-anchor="end" class="ax">20%</text>
<line x1="45.80" x2="48.5" y1="570.38" y2="570.38" stroke="#555" stroke-width="1.0"/>
<text x="44.60" y="573.88" text-anchor="end" class="ax">40%</text>
<line x1="45.80" x2="48.5" y1="532.52" y2="532.52" stroke="#555" stroke-width="1.0"/>
<text x="44.60" y="536.02" text-anchor="end" class="ax">60%</text>
<line x1="45.80" x2="48.5" y1="494.66" y2="494.66" stroke="#555" stroke-width="1.0"/>
<text x="44.60" y="498.16" text-anchor="end" class="ax">80%</text>
<rect x="203.8" y="477.4" width="132.10" height="176.70" fill="#fff"/>
<line x1="203.8" x2="335.9" y1="627.17" y2="627.17" stroke="#ebebeb" stroke-width="0.55"/>
<line x1="203.8" x2="335.9" y1="589.31" y2="589.31" stroke="#ebebeb" stroke-width="0.55"/>
<line x1="203.8" x2="335.9" y1="551.45" y2="551.45" stroke="#ebebeb" stroke-width="0.55"/>
<line x1="203.8" x2="335.9" y1="513.59" y2="513.59" stroke="#ebebeb" stroke-width="0.55"/>
<line x1="238.70" x2="238.70" y1="477.4" y2="654.1" stroke="#ebebeb" stroke-width="0.55"/>
<line x1="276.50" x2="276.50" y1="477.4" y2="654.1" stroke="#ebebeb" stroke-width="0.55"/>
<line x1="314.30" x2="314.30" y1="477.4" y2="654.1" stroke="#ebebeb" stroke-width="0.55"/>
<line x1="203.8" x2="335.9" y1="646.10" y2="646.10" stroke="#ebebeb" stroke-width="1.07"/>
<line x1="203.8" x2="335.9" y1="608.24" y2="608.24" stroke="#ebebeb" stroke-width="1.07"/>
<line x1="203.8" x2="335.9" y1="570.38" y2="570.38" stroke="#ebebeb" stroke-width="1.07"/>
<line x1="203.8" x2="335.9" y1="532.52" y2="532.52" stroke="#ebebeb" stroke-width="1.07"/>
<line x1="203.8" x2="335.9" y1="494.66" y2="494.66" stroke="#ebebeb" stroke-width="1.07"/>
<line x1="219.80" x2="219.80" y1="477.4" y2="654.1" stroke="#ebebeb" stroke-width="1.07"/>
<line x1="257.60" x2="257.60" y1="477.4" y2="654.1" stroke="#ebebeb" stroke-width="1.07"/>
<line x1="295.40" x2="295.40" y1="477.4" y2="654.1" stroke="#ebebeb" stroke-width="1.07"/>
<line x1="333.20" x2="333.20" y1="477.4" y2="654.1" stroke="#ebebeb" stroke-width="1.07"/>
<clipPath id="cpC2"><rect x="203.8" y="477.4" width="132.10" height="176.70"/></clipPath>
<g clip-path="url(#cpC2)">
<path d="M210.0,566.3 L214.5,561.8 L219.0,559.8 L222.8,562.5 L226.5,570.8 L230.3,582.1 L234.0,591.1 L237.8,592.6 L243.1,591.1 L248.3,589.6 L252.1,588.1 L255.8,586.3 L260.3,589.6 L264.1,597.1 L268.2,604.5 L272.8,609.1 L276.5,604.6 L280.3,597.8 L284.0,592.6 L287.8,587.3 L291.5,582.1 L295.3,580.3 L298.3,583.6 L302.1,592.6 L305.8,600.1 L309.6,602.3 L313.3,596.3 L317.1,586.6 L320.8,580.6 L325.3,576.1 L329.8,571.2 L329.8,626.8 L325.3,628.6 L320.1,630.9 L315.6,633.1 L311.1,636.1 L307.3,634.6 L302.8,631.6 L298.3,628.6 L293.8,627.9 L288.5,629.4 L281.0,630.1 L275.0,630.9 L272.0,630.5 L268.5,627.5 L265.6,624.1 L261.1,619.6 L256.6,615.9 L252.1,613.6 L247.6,611.4 L242.3,609.1 L237.8,606.1 L234.0,601.6 L230.3,591.8 L226.5,581.3 L222.8,573.0 L219.0,569.3 L214.5,571.5 L210.0,576.8 Z" fill="#ddb129" fill-opacity="0.5" stroke="none"/>
<path d="M210.0,571.5 L214.5,566.3 L219.0,564.3 L222.8,567.8 L226.5,575.3 L230.3,586.6 L233.3,594.8 L236.3,598.6 L240.8,599.3 L244.6,600.8 L249.1,601.9 L252.8,600.8 L256.6,599.8 L260.3,603.1 L264.1,609.9 L267.8,615.9 L270.5,618.5 L272.8,619.3 L276.5,615.1 L280.3,610.6 L284.0,607.6 L287.8,603.8 L291.5,598.6 L295.3,595.9 L299.0,599.3 L302.8,606.8 L306.6,614.4 L310.3,617.4 L314.1,612.1 L317.8,604.6 L321.6,599.3 L325.3,593.3 L329.8,586.3" fill="none" stroke="#eea22b" stroke-width="1.75" stroke-linejoin="round" stroke-linecap="butt"/>
<line x1="228.6" x2="228.6" y1="477.4" y2="654.1" stroke="#000" stroke-width="1.4"/>
<line x1="209.7" x2="209.7" y1="564.5" y2="573" stroke="#000" stroke-width="1.05"/>
<circle cx="209.7" cy="568.8" r="3.3" fill="none" stroke="#000" stroke-width="1.05"/>
<line x1="247.6" x2="247.6" y1="612.5" y2="620.7" stroke="#000" stroke-width="1.05"/>
<circle cx="247.6" cy="616.6" r="3.5" fill="#000"/>
<line x1="285.5" x2="285.5" y1="589" y2="597.7" stroke="#000" stroke-width="1.05"/>
<circle cx="285.5" cy="593.3" r="3.5" fill="#000"/>
<line x1="323.5" x2="323.5" y1="599.6" y2="608" stroke="#000" stroke-width="1.05"/>
<circle cx="323.5" cy="603.8" r="3.5" fill="#000"/>
</g>
<rect x="203.8" y="477.4" width="132.10" height="176.70" fill="none" stroke="#939393" stroke-width="1.07"/>
<clipPath id="lcC2"><rect x="0" y="0" width="340.4" height="666"/></clipPath><g clip-path="url(#lcC2)">
<line x1="219.80" x2="219.80" y1="654.1" y2="656.80" stroke="#555" stroke-width="1.0"/>
<text x="219.80" y="664.90" text-anchor="middle" class="ax">2020</text>
<line x1="257.60" x2="257.60" y1="654.1" y2="656.80" stroke="#555" stroke-width="1.0"/>
<text x="257.60" y="664.90" text-anchor="middle" class="ax">2021</text>
<line x1="295.40" x2="295.40" y1="654.1" y2="656.80" stroke="#555" stroke-width="1.0"/>
<text x="295.40" y="664.90" text-anchor="middle" class="ax">2022</text>
<line x1="333.20" x2="333.20" y1="654.1" y2="656.80" stroke="#555" stroke-width="1.0"/>
<text x="333.20" y="664.90" text-anchor="middle" class="ax">2023</text>
</g>
<rect x="392.5" y="477.4" width="132.00" height="176.70" fill="#fff"/>
<line x1="392.5" x2="524.5" y1="627.17" y2="627.17" stroke="#ebebeb" stroke-width="0.55"/>
<line x1="392.5" x2="524.5" y1="589.31" y2="589.31" stroke="#ebebeb" stroke-width="0.55"/>
<line x1="392.5" x2="524.5" y1="551.45" y2="551.45" stroke="#ebebeb" stroke-width="0.55"/>
<line x1="392.5" x2="524.5" y1="513.59" y2="513.59" stroke="#ebebeb" stroke-width="0.55"/>
<line x1="430.80" x2="430.80" y1="477.4" y2="654.1" stroke="#ebebeb" stroke-width="0.55"/>
<line x1="486.20" x2="486.20" y1="477.4" y2="654.1" stroke="#ebebeb" stroke-width="0.55"/>
<line x1="392.5" x2="524.5" y1="646.10" y2="646.10" stroke="#ebebeb" stroke-width="1.07"/>
<line x1="392.5" x2="524.5" y1="608.24" y2="608.24" stroke="#ebebeb" stroke-width="1.07"/>
<line x1="392.5" x2="524.5" y1="570.38" y2="570.38" stroke="#ebebeb" stroke-width="1.07"/>
<line x1="392.5" x2="524.5" y1="532.52" y2="532.52" stroke="#ebebeb" stroke-width="1.07"/>
<line x1="392.5" x2="524.5" y1="494.66" y2="494.66" stroke="#ebebeb" stroke-width="1.07"/>
<line x1="403.10" x2="403.10" y1="477.4" y2="654.1" stroke="#ebebeb" stroke-width="1.07"/>
<line x1="458.50" x2="458.50" y1="477.4" y2="654.1" stroke="#ebebeb" stroke-width="1.07"/>
<line x1="513.90" x2="513.90" y1="477.4" y2="654.1" stroke="#ebebeb" stroke-width="1.07"/>
<clipPath id="cpD1"><rect x="392.5" y="477.4" width="132.00" height="176.70"/></clipPath>
<g clip-path="url(#cpD1)">
<path d="M398.4,590.5 L401.8,588.9 L405.8,588.5 L409.2,590.5 L412.6,595.3 L416.0,600.0 L419.4,604.1 L422.7,606.8 L426.1,605.4 L428.8,602.0 L430.8,600.0 L434.9,600.7 L439.6,601.4 L443.7,604.1 L447.7,608.1 L452.5,606.8 L455.0,606.0 L459.2,605.4 L463.4,607.2 L467.6,611.4 L471.8,616.2 L476.6,619.8 L481.4,620.4 L485.6,617.4 L490.4,612.6 L495.2,611.4 L500.0,613.2 L504.8,613.8 L509.6,612.0 L513.8,610.2 L518.4,611.4 L518.4,632.4 L514.4,631.8 L510.2,633.0 L505.4,633.9 L500.6,633.0 L495.8,632.4 L491.0,633.6 L486.2,635.4 L481.4,636.6 L477.2,636.6 L473.0,633.0 L468.2,628.8 L463.4,626.4 L459.2,625.8 L455.0,625.2 L452.5,625.7 L448.4,625.0 L444.4,623.0 L440.3,618.2 L436.2,613.5 L432.2,609.5 L429.5,609.5 L426.8,613.5 L423.4,614.2 L420.0,611.5 L416.6,608.1 L413.3,604.7 L409.9,601.4 L405.8,598.0 L401.8,596.6 L398.4,598.6 Z" fill="#bdbfbf" fill-opacity="0.5" stroke="none"/>
<path d="M398.4,594.6 L401.1,593.5 L405.2,593.5 L408.5,596.0 L411.9,600.0 L415.3,604.1 L418.7,607.4 L422.1,610.1 L425.4,610.1 L428.1,607.4 L430.8,604.7 L434.2,605.4 L437.6,608.1 L441.6,612.2 L445.7,616.2 L449.8,618.9 L453.8,619.6 L458.6,619.2 L462.2,620.4 L466.4,624.0 L470.6,627.6 L475.4,630.6 L480.8,631.8 L485.0,630.0 L489.8,627.9 L495.2,626.7 L500.0,627.6 L504.8,629.1 L509.6,628.2 L513.8,627.4 L518.4,627.6" fill="none" stroke="#a5a5a5" stroke-width="1.75" stroke-linejoin="round" stroke-linecap="butt"/>
<line x1="430.7" x2="430.7" y1="477.4" y2="654.1" stroke="#000" stroke-width="1.4"/>
<line x1="421.4" x2="421.4" y1="566.9" y2="627" stroke="#000" stroke-width="1.05"/>
<circle cx="421.4" cy="610.1" r="3.3" fill="none" stroke="#000" stroke-width="1.05"/>
<circle cx="458.6" cy="619.1" r="3.5" fill="#000"/>
<circle cx="486.2" cy="621.9" r="3.5" fill="#000"/>
<circle cx="513.8" cy="620.2" r="3.5" fill="#000"/>
</g>
<rect x="392.5" y="477.4" width="132.00" height="176.70" fill="none" stroke="#939393" stroke-width="1.07"/>
<line x1="403.10" x2="403.10" y1="654.1" y2="656.80" stroke="#555" stroke-width="1.0"/>
<text x="403.10" y="664.90" text-anchor="middle" class="ax">2017</text>
<line x1="458.50" x2="458.50" y1="654.1" y2="656.80" stroke="#555" stroke-width="1.0"/>
<text x="458.50" y="664.90" text-anchor="middle" class="ax">2018</text>
<line x1="513.90" x2="513.90" y1="654.1" y2="656.80" stroke="#555" stroke-width="1.0"/>
<text x="513.90" y="664.90" text-anchor="middle" class="ax">2019</text>
<line x1="389.80" x2="392.5" y1="646.10" y2="646.10" stroke="#555" stroke-width="1.0"/>
<text x="388.60" y="649.60" text-anchor="end" class="ax">0%</text>
<line x1="389.80" x2="392.5" y1="608.24" y2="608.24" stroke="#555" stroke-width="1.0"/>
<text x="388.60" y="611.74" text-anchor="end" class="ax">20%</text>
<line x1="389.80" x2="392.5" y1="570.38" y2="570.38" stroke="#555" stroke-width="1.0"/>
<text x="388.60" y="573.88" text-anchor="end" class="ax">40%</text>
<line x1="389.80" x2="392.5" y1="532.52" y2="532.52" stroke="#555" stroke-width="1.0"/>
<text x="388.60" y="536.02" text-anchor="end" class="ax">60%</text>
<line x1="389.80" x2="392.5" y1="494.66" y2="494.66" stroke="#555" stroke-width="1.0"/>
<text x="388.60" y="498.16" text-anchor="end" class="ax">80%</text>
<rect x="547.5" y="477.4" width="131.70" height="176.70" fill="#fff"/>
<line x1="547.5" x2="679.2" y1="627.17" y2="627.17" stroke="#ebebeb" stroke-width="0.55"/>
<line x1="547.5" x2="679.2" y1="589.31" y2="589.31" stroke="#ebebeb" stroke-width="0.55"/>
<line x1="547.5" x2="679.2" y1="551.45" y2="551.45" stroke="#ebebeb" stroke-width="0.55"/>
<line x1="547.5" x2="679.2" y1="513.59" y2="513.59" stroke="#ebebeb" stroke-width="0.55"/>
<line x1="585.80" x2="585.80" y1="477.4" y2="654.1" stroke="#ebebeb" stroke-width="0.55"/>
<line x1="641.40" x2="641.40" y1="477.4" y2="654.1" stroke="#ebebeb" stroke-width="0.55"/>
<line x1="547.5" x2="679.2" y1="646.10" y2="646.10" stroke="#ebebeb" stroke-width="1.07"/>
<line x1="547.5" x2="679.2" y1="608.24" y2="608.24" stroke="#ebebeb" stroke-width="1.07"/>
<line x1="547.5" x2="679.2" y1="570.38" y2="570.38" stroke="#ebebeb" stroke-width="1.07"/>
<line x1="547.5" x2="679.2" y1="532.52" y2="532.52" stroke="#ebebeb" stroke-width="1.07"/>
<line x1="547.5" x2="679.2" y1="494.66" y2="494.66" stroke="#ebebeb" stroke-width="1.07"/>
<line x1="558.00" x2="558.00" y1="477.4" y2="654.1" stroke="#ebebeb" stroke-width="1.07"/>
<line x1="613.60" x2="613.60" y1="477.4" y2="654.1" stroke="#ebebeb" stroke-width="1.07"/>
<line x1="669.20" x2="669.20" y1="477.4" y2="654.1" stroke="#ebebeb" stroke-width="1.07"/>
<clipPath id="cpD2"><rect x="547.5" y="477.4" width="131.70" height="176.70"/></clipPath>
<g clip-path="url(#cpD2)">
<path d="M553.4,590.5 L556.8,588.9 L561.5,588.9 L564.9,591.9 L568.9,596.6 L573.0,601.4 L577.1,604.7 L580.4,605.4 L583.4,602.7 L586.1,600.0 L589.9,602.7 L593.9,606.8 L598.0,610.8 L602.1,614.9 L606.1,618.2 L610.0,619.4 L614.2,619.4 L618.4,621.5 L622.6,624.1 L626.8,626.8 L631.0,629.9 L636.3,630.5 L641.5,627.8 L646.3,626.2 L651.0,626.2 L655.2,627.1 L659.4,627.8 L663.6,626.8 L668.9,625.2 L673.6,625.0 L673.6,637.8 L668.9,637.8 L664.7,638.3 L660.5,638.9 L656.2,638.3 L652.0,637.8 L646.8,637.3 L641.5,637.3 L636.3,638.3 L631.0,637.8 L626.8,636.2 L622.6,633.6 L618.4,631.5 L614.2,630.5 L610.0,629.4 L607.5,627.7 L602.7,625.0 L598.7,620.9 L594.6,616.9 L590.6,612.8 L586.5,609.5 L583.8,611.5 L581.1,614.2 L577.7,612.8 L573.7,610.1 L569.6,606.1 L565.6,601.4 L561.5,598.0 L556.8,597.0 L553.4,598.6 Z" fill="#55b3f9" fill-opacity="0.5" stroke="none"/>
<path d="M553.4,594.6 L556.1,593.5 L560.8,593.5 L564.2,596.0 L568.3,600.7 L572.3,605.4 L576.4,608.8 L579.8,609.5 L583.1,607.4 L586.1,604.7 L589.9,607.4 L593.9,611.5 L598.0,615.5 L602.1,619.6 L606.1,623.0 L610.0,624.7 L613.7,625.2 L618.4,626.2 L622.6,628.3 L626.8,630.7 L631.0,633.1 L635.8,634.1 L640.5,633.1 L645.7,631.5 L650.5,631.5 L655.2,632.6 L659.4,633.4 L663.6,632.3 L668.3,631.5 L673.6,632.0" fill="none" stroke="#4a9eff" stroke-width="1.75" stroke-linejoin="round" stroke-linecap="butt"/>
<line x1="586.1" x2="586.1" y1="477.4" y2="654.1" stroke="#000" stroke-width="1.4"/>
<line x1="576.4" x2="576.4" y1="570.3" y2="638.5" stroke="#000" stroke-width="1.05"/>
<circle cx="576.4" cy="610.1" r="3.3" fill="none" stroke="#000" stroke-width="1.05"/>
<circle cx="613.7" cy="625.4" r="3.5" fill="#000"/>
<circle cx="641.3" cy="625.4" r="3.5" fill="#000"/>
<circle cx="669.2" cy="623.1" r="3.5" fill="#000"/>
</g>
<rect x="547.5" y="477.4" width="131.70" height="176.70" fill="none" stroke="#939393" stroke-width="1.07"/>
<line x1="558.00" x2="558.00" y1="654.1" y2="656.80" stroke="#555" stroke-width="1.0"/>
<text x="558.00" y="664.90" text-anchor="middle" class="ax">2017</text>
<line x1="613.60" x2="613.60" y1="654.1" y2="656.80" stroke="#555" stroke-width="1.0"/>
<text x="613.60" y="664.90" text-anchor="middle" class="ax">2018</text>
<line x1="669.20" x2="669.20" y1="654.1" y2="656.80" stroke="#555" stroke-width="1.0"/>
<text x="669.20" y="664.90" text-anchor="middle" class="ax">2019</text>
<text x="48.8" y="11.0" class="ti">A. Mosha et al. 2022, 2024</text>
<text x="48.8" y="240.6" class="ti">B. Protopopoff et al. 2018, 2023</text>
<text x="48.8" y="470.0" class="ti">C. Accrombessi et al. 2023, 2024</text>
<text x="392.7" y="469.7" class="ti">D. Staedke et al. 2020</text>
<g transform="translate(8.9,106.9) rotate(-90)"><text x="-1.6" y="0" text-anchor="middle" class="at">PfPR</text><text x="0" y="11.9" text-anchor="middle" class="at">(6 months to 14 years old)</text></g>
<g transform="translate(8.9,336.2) rotate(-90)"><text x="-1.6" y="0" text-anchor="middle" class="at">PfPR</text><text x="0" y="11.9" text-anchor="middle" class="at">(6 months to 14 years old)</text></g>
<g transform="translate(8.9,565.8) rotate(-90)"><text x="-1.6" y="0" text-anchor="middle" class="at">PfPR</text><text x="0" y="11.9" text-anchor="middle" class="at">(all ages)</text></g>
<g transform="translate(352.9,565.8) rotate(-90)"><text x="-1.6" y="0" text-anchor="middle" class="at">PfPR</text><text x="0" y="11.9" text-anchor="middle" class="at">(2 to 10 years old)</text></g>
<rect x="512.5" y="264.5" width="113.9" height="151.4" fill="#fff" stroke="#333" stroke-width="0.8"/>
<text x="513.4" y="274.9" class="lt">Trial arm</text>
<rect x="514.0" y="281.5" width="12.7" height="12.3" fill="#dedfdf"/>
<line x1="514.6" x2="526.1" y1="287.7" y2="287.7" stroke="#a5a5a5" stroke-width="1.6"/>
<text x="531.4" y="291.8" class="lx">Pyrethroid-only</text>
<rect x="514.0" y="295.4" width="12.7" height="12.3" fill="#aad9fc"/>
<line x1="514.6" x2="526.1" y1="301.59999999999997" y2="301.59999999999997" stroke="#4a9eff" stroke-width="1.6"/>
<text x="531.4" y="305.7" class="lx">Olyset Plus</text>
<rect x="514.0" y="309.3" width="12.7" height="12.3" fill="#eed894"/>
<line x1="514.6" x2="526.1" y1="315.5" y2="315.5" stroke="#eea22b" stroke-width="1.6"/>
<text x="531.4" y="319.6" class="lx">Interceptor G2</text>
<line x1="520.3" x2="520.3" y1="348" y2="362" stroke="#000" stroke-width="1.4"/>
<text x="531.4" y="358.9" class="lx">Net distribution</text>
<line x1="520.3" x2="520.3" y1="389" y2="401" stroke="#000" stroke-width="1.07"/>
<circle cx="520.3" cy="394.8" r="3.1" fill="none" stroke="#000" stroke-width="1.07"/>
<text x="531.4" y="398.7" class="lx">Calibration points</text>
<line x1="520.3" x2="520.3" y1="403" y2="414" stroke="#000" stroke-width="1.07"/>
<circle cx="520.3" cy="408.4" r="3.5" fill="#000"/>
<text x="531.4" y="412.4" class="lx">Validation points</text>
</svg></body></html>
